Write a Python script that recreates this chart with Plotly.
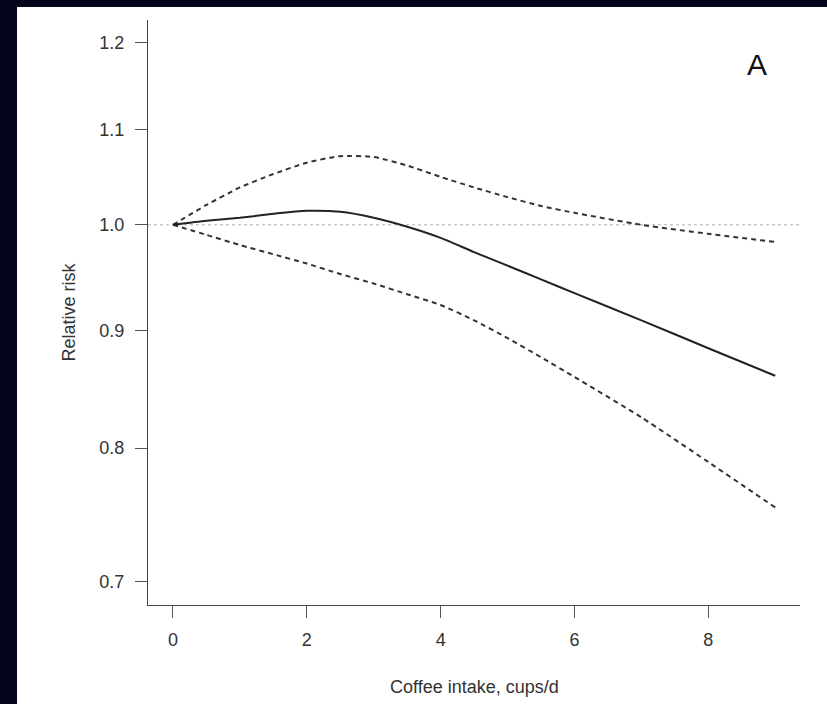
import plotly.graph_objects as go
import math

# ---- data ----
intake = [0, 0.5, 1, 1.5, 2, 2.5, 3, 3.5, 4, 4.5, 5, 5.5, 6, 7, 8, 9]
rr_est = [1.000, 1.004, 1.007, 1.011, 1.014, 1.013, 1.007, 0.998, 0.987, 0.973, 0.960, 0.947, 0.934, 0.909, 0.884, 0.860]
rr_upper = [1.000, 1.020, 1.038, 1.052, 1.064, 1.071, 1.070, 1.061, 1.049, 1.038, 1.028, 1.019, 1.012, 1.000, 0.991, 0.983]
rr_lower = [1.000, 0.990, 0.980, 0.971, 0.962, 0.952, 0.943, 0.933, 0.923, 0.909, 0.893, 0.876, 0.859, 0.825, 0.789, 0.754]

x_ticks = [0, 2, 4, 6, 8]
y_ticks = [0.7, 0.8, 0.9, 1.0, 1.1, 1.2]
y_tick_labels = ["0.7", "0.8", "0.9", "1.0", "1.1", "1.2"]
ref_value = 1.0
panel_label = "A"
x_title = "Coffee intake, cups/d"
y_title = "Relative risk"

FONT = "Liberation Sans, Arial, Helvetica, sans-serif"
NAVY = "#03031a"

fig = go.Figure()

fig.add_hline(y=ref_value, line=dict(color="#c9c9c9", width=1.5, dash="dot"), layer="below")

fig.add_trace(go.Scatter(x=intake, y=rr_upper, mode="lines", line=dict(color="#333333", width=2, dash="5px,4px", shape="spline", smoothing=0.6), showlegend=False, hoverinfo="skip"))
fig.add_trace(go.Scatter(x=intake, y=rr_lower, mode="lines", line=dict(color="#333333", width=2, dash="5px,4px", shape="spline", smoothing=0.6), showlegend=False, hoverinfo="skip"))
fig.add_trace(go.Scatter(x=intake, y=rr_est, mode="lines", line=dict(color="#222222", width=2, shape="spline", smoothing=0.6), showlegend=False, hoverinfo="skip"))

# dark navy bands on left and top of a white page
L, R, T, B = 148, 27, 20, 99
W, H = 827, 704
pw, ph = W - L - R, H - T - B

def px_x(p):
    return (p - L) / pw

def px_y(p):
    return (T + ph - p) / ph

fig.add_shape(type="rect", xref="paper", yref="paper",
              x0=px_x(-5), x1=px_x(17), y0=px_y(H + 5), y1=px_y(-5),
              fillcolor=NAVY, line=dict(width=0), layer="below")
fig.add_shape(type="rect", xref="paper", yref="paper",
              x0=px_x(-5), x1=px_x(W + 5), y0=px_y(7), y1=px_y(-5),
              fillcolor=NAVY, line=dict(width=0), layer="below")

fig.add_annotation(x=8.73, y=math.log10(1.174), xref="x", yref="y", text=panel_label,
                   showarrow=False, font=dict(size=30, color="#111", family=FONT))
fig.add_annotation(x=0.5, y=px_y(687), xref="paper", yref="paper", text=x_title,
                   showarrow=False, font=dict(size=18, color="#333", family=FONT), yanchor="middle")
fig.add_annotation(x=px_x(68), y=0.5, xref="paper", yref="paper", text=y_title, textangle=-90,
                   showarrow=False, font=dict(size=18, color="#333", family=FONT), xanchor="center", yanchor="middle")

fig.update_layout(
    width=W, height=H,
    margin=dict(l=L, r=R, t=T, b=B),
    paper_bgcolor="white",
    plot_bgcolor="white",
    hovermode=False,
    font=dict(family=FONT, size=18, color="#333"),
    xaxis=dict(range=[-0.373, 9.37], tickvals=x_ticks, ticks="outside", ticklen=12, tickwidth=1,
               tickcolor="#555", showline=True, linecolor="#444", linewidth=1.3, showgrid=False,
               zeroline=False, tickfont=dict(size=18, color="#333"), ticklabelstandoff=6),
    yaxis=dict(type="log", range=[math.log10(0.684), math.log10(1.227)], tickvals=y_ticks,
               ticktext=y_tick_labels, ticks="outside", ticklen=12, tickwidth=1, tickcolor="#555",
               showline=True, linecolor="#444", linewidth=1.3, showgrid=False, zeroline=False,
               tickfont=dict(size=18, color="#333"), ticklabelstandoff=7),
)

fig.write_html("out.html", config={"displayModeBar": False},
               post_script="document.body.style.margin='0';document.body.style.padding='0';document.body.style.overflow='hidden';")
